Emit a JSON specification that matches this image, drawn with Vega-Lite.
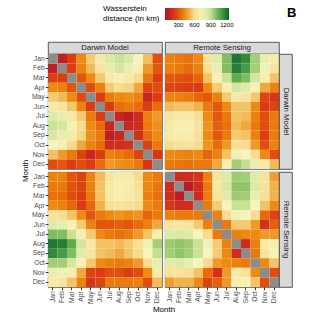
{
"$schema":"https://vega.github.io/schema/vega-lite/v6.json",
"padding":{"left":21,"top":7,"right":0,"bottom":0},
"title":{"text":"B","anchor":"end","fontSize":13,"fontWeight":"bold","font":"Liberation Sans","color":"#000","offset":-12,"dx":4},
"datasets":{"cells":[
{"r":"D","c":"D","y":"Jan","x":"Jan","v":null},{"r":"D","c":"D","y":"Jan","x":"Feb","v":120},{"r":"D","c":"D","y":"Jan","x":"Mar","v":250},{"r":"D","c":"D","y":"Jan","x":"Apr","v":420},{"r":"D","c":"D","y":"Jan","x":"May","v":560},{"r":"D","c":"D","y":"Jan","x":"Jun","v":680},{"r":"D","c":"D","y":"Jan","x":"Jul","v":830},{"r":"D","c":"D","y":"Jan","x":"Aug","v":880},{"r":"D","c":"D","y":"Jan","x":"Sep","v":840},{"r":"D","c":"D","y":"Jan","x":"Oct","v":760},{"r":"D","c":"D","y":"Jan","x":"Nov","v":530},{"r":"D","c":"D","y":"Jan","x":"Dec","v":280},
{"r":"D","c":"D","y":"Feb","x":"Jan","v":120},{"r":"D","c":"D","y":"Feb","x":"Feb","v":null},{"r":"D","c":"D","y":"Feb","x":"Mar","v":250},{"r":"D","c":"D","y":"Feb","x":"Apr","v":400},{"r":"D","c":"D","y":"Feb","x":"May","v":520},{"r":"D","c":"D","y":"Feb","x":"Jun","v":650},{"r":"D","c":"D","y":"Feb","x":"Jul","v":800},{"r":"D","c":"D","y":"Feb","x":"Aug","v":850},{"r":"D","c":"D","y":"Feb","x":"Sep","v":800},{"r":"D","c":"D","y":"Feb","x":"Oct","v":700},{"r":"D","c":"D","y":"Feb","x":"Nov","v":450},{"r":"D","c":"D","y":"Feb","x":"Dec","v":300},
{"r":"D","c":"D","y":"Mar","x":"Jan","v":250},{"r":"D","c":"D","y":"Mar","x":"Feb","v":250},{"r":"D","c":"D","y":"Mar","x":"Mar","v":null},{"r":"D","c":"D","y":"Mar","x":"Apr","v":300},{"r":"D","c":"D","y":"Mar","x":"May","v":420},{"r":"D","c":"D","y":"Mar","x":"Jun","v":550},{"r":"D","c":"D","y":"Mar","x":"Jul","v":680},{"r":"D","c":"D","y":"Mar","x":"Aug","v":700},{"r":"D","c":"D","y":"Mar","x":"Sep","v":680},{"r":"D","c":"D","y":"Mar","x":"Oct","v":600},{"r":"D","c":"D","y":"Mar","x":"Nov","v":380},{"r":"D","c":"D","y":"Mar","x":"Dec","v":250},
{"r":"D","c":"D","y":"Apr","x":"Jan","v":420},{"r":"D","c":"D","y":"Apr","x":"Feb","v":400},{"r":"D","c":"D","y":"Apr","x":"Mar","v":300},{"r":"D","c":"D","y":"Apr","x":"Apr","v":null},{"r":"D","c":"D","y":"Apr","x":"May","v":280},{"r":"D","c":"D","y":"Apr","x":"Jun","v":400},{"r":"D","c":"D","y":"Apr","x":"Jul","v":560},{"r":"D","c":"D","y":"Apr","x":"Aug","v":600},{"r":"D","c":"D","y":"Apr","x":"Sep","v":580},{"r":"D","c":"D","y":"Apr","x":"Oct","v":480},{"r":"D","c":"D","y":"Apr","x":"Nov","v":260},{"r":"D","c":"D","y":"Apr","x":"Dec","v":280},
{"r":"D","c":"D","y":"May","x":"Jan","v":560},{"r":"D","c":"D","y":"May","x":"Feb","v":520},{"r":"D","c":"D","y":"May","x":"Mar","v":420},{"r":"D","c":"D","y":"May","x":"Apr","v":280},{"r":"D","c":"D","y":"May","x":"May","v":null},{"r":"D","c":"D","y":"May","x":"Jun","v":250},{"r":"D","c":"D","y":"May","x":"Jul","v":380},{"r":"D","c":"D","y":"May","x":"Aug","v":420},{"r":"D","c":"D","y":"May","x":"Sep","v":430},{"r":"D","c":"D","y":"May","x":"Oct","v":400},{"r":"D","c":"D","y":"May","x":"Nov","v":150},{"r":"D","c":"D","y":"May","x":"Dec","v":250},
{"r":"D","c":"D","y":"Jun","x":"Jan","v":680},{"r":"D","c":"D","y":"Jun","x":"Feb","v":650},{"r":"D","c":"D","y":"Jun","x":"Mar","v":550},{"r":"D","c":"D","y":"Jun","x":"Apr","v":400},{"r":"D","c":"D","y":"Jun","x":"May","v":250},{"r":"D","c":"D","y":"Jun","x":"Jun","v":null},{"r":"D","c":"D","y":"Jun","x":"Jul","v":250},{"r":"D","c":"D","y":"Jun","x":"Aug","v":350},{"r":"D","c":"D","y":"Jun","x":"Sep","v":380},{"r":"D","c":"D","y":"Jun","x":"Oct","v":350},{"r":"D","c":"D","y":"Jun","x":"Nov","v":250},{"r":"D","c":"D","y":"Jun","x":"Dec","v":350},
{"r":"D","c":"D","y":"Jul","x":"Jan","v":830},{"r":"D","c":"D","y":"Jul","x":"Feb","v":800},{"r":"D","c":"D","y":"Jul","x":"Mar","v":680},{"r":"D","c":"D","y":"Jul","x":"Apr","v":560},{"r":"D","c":"D","y":"Jul","x":"May","v":380},{"r":"D","c":"D","y":"Jul","x":"Jun","v":250},{"r":"D","c":"D","y":"Jul","x":"Jul","v":null},{"r":"D","c":"D","y":"Jul","x":"Aug","v":150},{"r":"D","c":"D","y":"Jul","x":"Sep","v":110},{"r":"D","c":"D","y":"Jul","x":"Oct","v":170},{"r":"D","c":"D","y":"Jul","x":"Nov","v":400},{"r":"D","c":"D","y":"Jul","x":"Dec","v":450},
{"r":"D","c":"D","y":"Aug","x":"Jan","v":880},{"r":"D","c":"D","y":"Aug","x":"Feb","v":850},{"r":"D","c":"D","y":"Aug","x":"Mar","v":700},{"r":"D","c":"D","y":"Aug","x":"Apr","v":600},{"r":"D","c":"D","y":"Aug","x":"May","v":420},{"r":"D","c":"D","y":"Aug","x":"Jun","v":350},{"r":"D","c":"D","y":"Aug","x":"Jul","v":150},{"r":"D","c":"D","y":"Aug","x":"Aug","v":null},{"r":"D","c":"D","y":"Aug","x":"Sep","v":150},{"r":"D","c":"D","y":"Aug","x":"Oct","v":180},{"r":"D","c":"D","y":"Aug","x":"Nov","v":380},{"r":"D","c":"D","y":"Aug","x":"Dec","v":430},
{"r":"D","c":"D","y":"Sep","x":"Jan","v":840},{"r":"D","c":"D","y":"Sep","x":"Feb","v":800},{"r":"D","c":"D","y":"Sep","x":"Mar","v":680},{"r":"D","c":"D","y":"Sep","x":"Apr","v":580},{"r":"D","c":"D","y":"Sep","x":"May","v":430},{"r":"D","c":"D","y":"Sep","x":"Jun","v":380},{"r":"D","c":"D","y":"Sep","x":"Jul","v":110},{"r":"D","c":"D","y":"Sep","x":"Aug","v":150},{"r":"D","c":"D","y":"Sep","x":"Sep","v":null},{"r":"D","c":"D","y":"Sep","x":"Oct","v":200},{"r":"D","c":"D","y":"Sep","x":"Nov","v":350},{"r":"D","c":"D","y":"Sep","x":"Dec","v":420},
{"r":"D","c":"D","y":"Oct","x":"Jan","v":760},{"r":"D","c":"D","y":"Oct","x":"Feb","v":700},{"r":"D","c":"D","y":"Oct","x":"Mar","v":600},{"r":"D","c":"D","y":"Oct","x":"Apr","v":480},{"r":"D","c":"D","y":"Oct","x":"May","v":400},{"r":"D","c":"D","y":"Oct","x":"Jun","v":350},{"r":"D","c":"D","y":"Oct","x":"Jul","v":170},{"r":"D","c":"D","y":"Oct","x":"Aug","v":180},{"r":"D","c":"D","y":"Oct","x":"Sep","v":200},{"r":"D","c":"D","y":"Oct","x":"Oct","v":null},{"r":"D","c":"D","y":"Oct","x":"Nov","v":260},{"r":"D","c":"D","y":"Oct","x":"Dec","v":380},
{"r":"D","c":"D","y":"Nov","x":"Jan","v":530},{"r":"D","c":"D","y":"Nov","x":"Feb","v":450},{"r":"D","c":"D","y":"Nov","x":"Mar","v":380},{"r":"D","c":"D","y":"Nov","x":"Apr","v":260},{"r":"D","c":"D","y":"Nov","x":"May","v":150},{"r":"D","c":"D","y":"Nov","x":"Jun","v":250},{"r":"D","c":"D","y":"Nov","x":"Jul","v":400},{"r":"D","c":"D","y":"Nov","x":"Aug","v":380},{"r":"D","c":"D","y":"Nov","x":"Sep","v":350},{"r":"D","c":"D","y":"Nov","x":"Oct","v":260},{"r":"D","c":"D","y":"Nov","x":"Nov","v":null},{"r":"D","c":"D","y":"Nov","x":"Dec","v":220},
{"r":"D","c":"D","y":"Dec","x":"Jan","v":280},{"r":"D","c":"D","y":"Dec","x":"Feb","v":300},{"r":"D","c":"D","y":"Dec","x":"Mar","v":250},{"r":"D","c":"D","y":"Dec","x":"Apr","v":280},{"r":"D","c":"D","y":"Dec","x":"May","v":250},{"r":"D","c":"D","y":"Dec","x":"Jun","v":350},{"r":"D","c":"D","y":"Dec","x":"Jul","v":450},{"r":"D","c":"D","y":"Dec","x":"Aug","v":430},{"r":"D","c":"D","y":"Dec","x":"Sep","v":420},{"r":"D","c":"D","y":"Dec","x":"Oct","v":380},{"r":"D","c":"D","y":"Dec","x":"Nov","v":220},{"r":"D","c":"D","y":"Dec","x":"Dec","v":null},
{"r":"D","c":"R","y":"Jan","x":"Jan","v":400},{"r":"D","c":"R","y":"Jan","x":"Feb","v":380},{"r":"D","c":"R","y":"Jan","x":"Mar","v":360},{"r":"D","c":"R","y":"Jan","x":"Apr","v":420},{"r":"D","c":"R","y":"Jan","x":"May","v":640},{"r":"D","c":"R","y":"Jan","x":"Jun","v":820},{"r":"D","c":"R","y":"Jan","x":"Jul","v":1000},{"r":"D","c":"R","y":"Jan","x":"Aug","v":1200},{"r":"D","c":"R","y":"Jan","x":"Sep","v":1150},{"r":"D","c":"R","y":"Jan","x":"Oct","v":950},{"r":"D","c":"R","y":"Jan","x":"Nov","v":800},{"r":"D","c":"R","y":"Jan","x":"Dec","v":680},
{"r":"D","c":"R","y":"Feb","x":"Jan","v":400},{"r":"D","c":"R","y":"Feb","x":"Feb","v":380},{"r":"D","c":"R","y":"Feb","x":"Mar","v":350},{"r":"D","c":"R","y":"Feb","x":"Apr","v":400},{"r":"D","c":"R","y":"Feb","x":"May","v":620},{"r":"D","c":"R","y":"Feb","x":"Jun","v":800},{"r":"D","c":"R","y":"Feb","x":"Jul","v":1000},{"r":"D","c":"R","y":"Feb","x":"Aug","v":1180},{"r":"D","c":"R","y":"Feb","x":"Sep","v":1100},{"r":"D","c":"R","y":"Feb","x":"Oct","v":950},{"r":"D","c":"R","y":"Feb","x":"Nov","v":780},{"r":"D","c":"R","y":"Feb","x":"Dec","v":650},
{"r":"D","c":"R","y":"Mar","x":"Jan","v":300},{"r":"D","c":"R","y":"Mar","x":"Feb","v":290},{"r":"D","c":"R","y":"Mar","x":"Mar","v":280},{"r":"D","c":"R","y":"Mar","x":"Apr","v":330},{"r":"D","c":"R","y":"Mar","x":"May","v":540},{"r":"D","c":"R","y":"Mar","x":"Jun","v":720},{"r":"D","c":"R","y":"Mar","x":"Jul","v":880},{"r":"D","c":"R","y":"Mar","x":"Aug","v":1050},{"r":"D","c":"R","y":"Mar","x":"Sep","v":1000},{"r":"D","c":"R","y":"Mar","x":"Oct","v":850},{"r":"D","c":"R","y":"Mar","x":"Nov","v":700},{"r":"D","c":"R","y":"Mar","x":"Dec","v":540},
{"r":"D","c":"R","y":"Apr","x":"Jan","v":260},{"r":"D","c":"R","y":"Apr","x":"Feb","v":260},{"r":"D","c":"R","y":"Apr","x":"Mar","v":250},{"r":"D","c":"R","y":"Apr","x":"Apr","v":240},{"r":"D","c":"R","y":"Apr","x":"May","v":420},{"r":"D","c":"R","y":"Apr","x":"Jun","v":560},{"r":"D","c":"R","y":"Apr","x":"Jul","v":700},{"r":"D","c":"R","y":"Apr","x":"Aug","v":850},{"r":"D","c":"R","y":"Apr","x":"Sep","v":820},{"r":"D","c":"R","y":"Apr","x":"Oct","v":720},{"r":"D","c":"R","y":"Apr","x":"Nov","v":480},{"r":"D","c":"R","y":"Apr","x":"Dec","v":400},
{"r":"D","c":"R","y":"May","x":"Jan","v":400},{"r":"D","c":"R","y":"May","x":"Feb","v":400},{"r":"D","c":"R","y":"May","x":"Mar","v":380},{"r":"D","c":"R","y":"May","x":"Apr","v":330},{"r":"D","c":"R","y":"May","x":"May","v":300},{"r":"D","c":"R","y":"May","x":"Jun","v":400},{"r":"D","c":"R","y":"May","x":"Jul","v":560},{"r":"D","c":"R","y":"May","x":"Aug","v":680},{"r":"D","c":"R","y":"May","x":"Sep","v":650},{"r":"D","c":"R","y":"May","x":"Oct","v":550},{"r":"D","c":"R","y":"May","x":"Nov","v":260},{"r":"D","c":"R","y":"May","x":"Dec","v":220},
{"r":"D","c":"R","y":"Jun","x":"Jan","v":520},{"r":"D","c":"R","y":"Jun","x":"Feb","v":540},{"r":"D","c":"R","y":"Jun","x":"Mar","v":540},{"r":"D","c":"R","y":"Jun","x":"Apr","v":500},{"r":"D","c":"R","y":"Jun","x":"May","v":380},{"r":"D","c":"R","y":"Jun","x":"Jun","v":300},{"r":"D","c":"R","y":"Jun","x":"Jul","v":420},{"r":"D","c":"R","y":"Jun","x":"Aug","v":540},{"r":"D","c":"R","y":"Jun","x":"Sep","v":540},{"r":"D","c":"R","y":"Jun","x":"Oct","v":420},{"r":"D","c":"R","y":"Jun","x":"Nov","v":240},{"r":"D","c":"R","y":"Jun","x":"Dec","v":260},
{"r":"D","c":"R","y":"Jul","x":"Jan","v":650},{"r":"D","c":"R","y":"Jul","x":"Feb","v":670},{"r":"D","c":"R","y":"Jul","x":"Mar","v":680},{"r":"D","c":"R","y":"Jul","x":"Apr","v":620},{"r":"D","c":"R","y":"Jul","x":"May","v":420},{"r":"D","c":"R","y":"Jul","x":"Jun","v":300},{"r":"D","c":"R","y":"Jul","x":"Jul","v":380},{"r":"D","c":"R","y":"Jul","x":"Aug","v":540},{"r":"D","c":"R","y":"Jul","x":"Sep","v":520},{"r":"D","c":"R","y":"Jul","x":"Oct","v":400},{"r":"D","c":"R","y":"Jul","x":"Nov","v":280},{"r":"D","c":"R","y":"Jul","x":"Dec","v":380},
{"r":"D","c":"R","y":"Aug","x":"Jan","v":680},{"r":"D","c":"R","y":"Aug","x":"Feb","v":700},{"r":"D","c":"R","y":"Aug","x":"Mar","v":700},{"r":"D","c":"R","y":"Aug","x":"Apr","v":640},{"r":"D","c":"R","y":"Aug","x":"May","v":440},{"r":"D","c":"R","y":"Aug","x":"Jun","v":320},{"r":"D","c":"R","y":"Aug","x":"Jul","v":360},{"r":"D","c":"R","y":"Aug","x":"Aug","v":520},{"r":"D","c":"R","y":"Aug","x":"Sep","v":480},{"r":"D","c":"R","y":"Aug","x":"Oct","v":380},{"r":"D","c":"R","y":"Aug","x":"Nov","v":280},{"r":"D","c":"R","y":"Aug","x":"Dec","v":380},
{"r":"D","c":"R","y":"Sep","x":"Jan","v":670},{"r":"D","c":"R","y":"Sep","x":"Feb","v":690},{"r":"D","c":"R","y":"Sep","x":"Mar","v":690},{"r":"D","c":"R","y":"Sep","x":"Apr","v":620},{"r":"D","c":"R","y":"Sep","x":"May","v":420},{"r":"D","c":"R","y":"Sep","x":"Jun","v":300},{"r":"D","c":"R","y":"Sep","x":"Jul","v":380},{"r":"D","c":"R","y":"Sep","x":"Aug","v":560},{"r":"D","c":"R","y":"Sep","x":"Sep","v":540},{"r":"D","c":"R","y":"Sep","x":"Oct","v":400},{"r":"D","c":"R","y":"Sep","x":"Nov","v":250},{"r":"D","c":"R","y":"Sep","x":"Dec","v":380},
{"r":"D","c":"R","y":"Oct","x":"Jan","v":600},{"r":"D","c":"R","y":"Oct","x":"Feb","v":630},{"r":"D","c":"R","y":"Oct","x":"Mar","v":640},{"r":"D","c":"R","y":"Oct","x":"Apr","v":600},{"r":"D","c":"R","y":"Oct","x":"May","v":440},{"r":"D","c":"R","y":"Oct","x":"Jun","v":350},{"r":"D","c":"R","y":"Oct","x":"Jul","v":450},{"r":"D","c":"R","y":"Oct","x":"Aug","v":620},{"r":"D","c":"R","y":"Oct","x":"Sep","v":600},{"r":"D","c":"R","y":"Oct","x":"Oct","v":450},{"r":"D","c":"R","y":"Oct","x":"Nov","v":280},{"r":"D","c":"R","y":"Oct","x":"Dec","v":400},
{"r":"D","c":"R","y":"Nov","x":"Jan","v":420},{"r":"D","c":"R","y":"Nov","x":"Feb","v":410},{"r":"D","c":"R","y":"Nov","x":"Mar","v":400},{"r":"D","c":"R","y":"Nov","x":"Apr","v":420},{"r":"D","c":"R","y":"Nov","x":"May","v":330},{"r":"D","c":"R","y":"Nov","x":"Jun","v":400},{"r":"D","c":"R","y":"Nov","x":"Jul","v":540},{"r":"D","c":"R","y":"Nov","x":"Aug","v":780},{"r":"D","c":"R","y":"Nov","x":"Sep","v":740},{"r":"D","c":"R","y":"Nov","x":"Oct","v":600},{"r":"D","c":"R","y":"Nov","x":"Nov","v":420},{"r":"D","c":"R","y":"Nov","x":"Dec","v":280},
{"r":"D","c":"R","y":"Dec","x":"Jan","v":380},{"r":"D","c":"R","y":"Dec","x":"Feb","v":370},{"r":"D","c":"R","y":"Dec","x":"Mar","v":360},{"r":"D","c":"R","y":"Dec","x":"Apr","v":380},{"r":"D","c":"R","y":"Dec","x":"May","v":380},{"r":"D","c":"R","y":"Dec","x":"Jun","v":480},{"r":"D","c":"R","y":"Dec","x":"Jul","v":700},{"r":"D","c":"R","y":"Dec","x":"Aug","v":950},{"r":"D","c":"R","y":"Dec","x":"Sep","v":900},{"r":"D","c":"R","y":"Dec","x":"Oct","v":800},{"r":"D","c":"R","y":"Dec","x":"Nov","v":680},{"r":"D","c":"R","y":"Dec","x":"Dec","v":520},
{"r":"R","c":"D","y":"Jan","x":"Jan","v":400},{"r":"R","c":"D","y":"Jan","x":"Feb","v":400},{"r":"R","c":"D","y":"Jan","x":"Mar","v":300},{"r":"R","c":"D","y":"Jan","x":"Apr","v":260},{"r":"R","c":"D","y":"Jan","x":"May","v":400},{"r":"R","c":"D","y":"Jan","x":"Jun","v":520},{"r":"R","c":"D","y":"Jan","x":"Jul","v":650},{"r":"R","c":"D","y":"Jan","x":"Aug","v":680},{"r":"R","c":"D","y":"Jan","x":"Sep","v":670},{"r":"R","c":"D","y":"Jan","x":"Oct","v":600},{"r":"R","c":"D","y":"Jan","x":"Nov","v":420},{"r":"R","c":"D","y":"Jan","x":"Dec","v":380},
{"r":"R","c":"D","y":"Feb","x":"Jan","v":380},{"r":"R","c":"D","y":"Feb","x":"Feb","v":380},{"r":"R","c":"D","y":"Feb","x":"Mar","v":290},{"r":"R","c":"D","y":"Feb","x":"Apr","v":260},{"r":"R","c":"D","y":"Feb","x":"May","v":400},{"r":"R","c":"D","y":"Feb","x":"Jun","v":540},{"r":"R","c":"D","y":"Feb","x":"Jul","v":670},{"r":"R","c":"D","y":"Feb","x":"Aug","v":700},{"r":"R","c":"D","y":"Feb","x":"Sep","v":690},{"r":"R","c":"D","y":"Feb","x":"Oct","v":630},{"r":"R","c":"D","y":"Feb","x":"Nov","v":410},{"r":"R","c":"D","y":"Feb","x":"Dec","v":370},
{"r":"R","c":"D","y":"Mar","x":"Jan","v":360},{"r":"R","c":"D","y":"Mar","x":"Feb","v":350},{"r":"R","c":"D","y":"Mar","x":"Mar","v":280},{"r":"R","c":"D","y":"Mar","x":"Apr","v":250},{"r":"R","c":"D","y":"Mar","x":"May","v":380},{"r":"R","c":"D","y":"Mar","x":"Jun","v":540},{"r":"R","c":"D","y":"Mar","x":"Jul","v":680},{"r":"R","c":"D","y":"Mar","x":"Aug","v":700},{"r":"R","c":"D","y":"Mar","x":"Sep","v":690},{"r":"R","c":"D","y":"Mar","x":"Oct","v":640},{"r":"R","c":"D","y":"Mar","x":"Nov","v":400},{"r":"R","c":"D","y":"Mar","x":"Dec","v":360},
{"r":"R","c":"D","y":"Apr","x":"Jan","v":420},{"r":"R","c":"D","y":"Apr","x":"Feb","v":400},{"r":"R","c":"D","y":"Apr","x":"Mar","v":330},{"r":"R","c":"D","y":"Apr","x":"Apr","v":240},{"r":"R","c":"D","y":"Apr","x":"May","v":330},{"r":"R","c":"D","y":"Apr","x":"Jun","v":500},{"r":"R","c":"D","y":"Apr","x":"Jul","v":620},{"r":"R","c":"D","y":"Apr","x":"Aug","v":640},{"r":"R","c":"D","y":"Apr","x":"Sep","v":620},{"r":"R","c":"D","y":"Apr","x":"Oct","v":600},{"r":"R","c":"D","y":"Apr","x":"Nov","v":420},{"r":"R","c":"D","y":"Apr","x":"Dec","v":380},
{"r":"R","c":"D","y":"May","x":"Jan","v":640},{"r":"R","c":"D","y":"May","x":"Feb","v":620},{"r":"R","c":"D","y":"May","x":"Mar","v":540},{"r":"R","c":"D","y":"May","x":"Apr","v":420},{"r":"R","c":"D","y":"May","x":"May","v":300},{"r":"R","c":"D","y":"May","x":"Jun","v":380},{"r":"R","c":"D","y":"May","x":"Jul","v":420},{"r":"R","c":"D","y":"May","x":"Aug","v":440},{"r":"R","c":"D","y":"May","x":"Sep","v":420},{"r":"R","c":"D","y":"May","x":"Oct","v":440},{"r":"R","c":"D","y":"May","x":"Nov","v":330},{"r":"R","c":"D","y":"May","x":"Dec","v":380},
{"r":"R","c":"D","y":"Jun","x":"Jan","v":820},{"r":"R","c":"D","y":"Jun","x":"Feb","v":800},{"r":"R","c":"D","y":"Jun","x":"Mar","v":720},{"r":"R","c":"D","y":"Jun","x":"Apr","v":560},{"r":"R","c":"D","y":"Jun","x":"May","v":400},{"r":"R","c":"D","y":"Jun","x":"Jun","v":300},{"r":"R","c":"D","y":"Jun","x":"Jul","v":300},{"r":"R","c":"D","y":"Jun","x":"Aug","v":320},{"r":"R","c":"D","y":"Jun","x":"Sep","v":300},{"r":"R","c":"D","y":"Jun","x":"Oct","v":350},{"r":"R","c":"D","y":"Jun","x":"Nov","v":400},{"r":"R","c":"D","y":"Jun","x":"Dec","v":480},
{"r":"R","c":"D","y":"Jul","x":"Jan","v":1000},{"r":"R","c":"D","y":"Jul","x":"Feb","v":1000},{"r":"R","c":"D","y":"Jul","x":"Mar","v":880},{"r":"R","c":"D","y":"Jul","x":"Apr","v":700},{"r":"R","c":"D","y":"Jul","x":"May","v":560},{"r":"R","c":"D","y":"Jul","x":"Jun","v":420},{"r":"R","c":"D","y":"Jul","x":"Jul","v":380},{"r":"R","c":"D","y":"Jul","x":"Aug","v":360},{"r":"R","c":"D","y":"Jul","x":"Sep","v":380},{"r":"R","c":"D","y":"Jul","x":"Oct","v":450},{"r":"R","c":"D","y":"Jul","x":"Nov","v":540},{"r":"R","c":"D","y":"Jul","x":"Dec","v":700},
{"r":"R","c":"D","y":"Aug","x":"Jan","v":1200},{"r":"R","c":"D","y":"Aug","x":"Feb","v":1180},{"r":"R","c":"D","y":"Aug","x":"Mar","v":1050},{"r":"R","c":"D","y":"Aug","x":"Apr","v":850},{"r":"R","c":"D","y":"Aug","x":"May","v":680},{"r":"R","c":"D","y":"Aug","x":"Jun","v":540},{"r":"R","c":"D","y":"Aug","x":"Jul","v":540},{"r":"R","c":"D","y":"Aug","x":"Aug","v":520},{"r":"R","c":"D","y":"Aug","x":"Sep","v":560},{"r":"R","c":"D","y":"Aug","x":"Oct","v":620},{"r":"R","c":"D","y":"Aug","x":"Nov","v":780},{"r":"R","c":"D","y":"Aug","x":"Dec","v":950},
{"r":"R","c":"D","y":"Sep","x":"Jan","v":1150},{"r":"R","c":"D","y":"Sep","x":"Feb","v":1100},{"r":"R","c":"D","y":"Sep","x":"Mar","v":1000},{"r":"R","c":"D","y":"Sep","x":"Apr","v":820},{"r":"R","c":"D","y":"Sep","x":"May","v":650},{"r":"R","c":"D","y":"Sep","x":"Jun","v":540},{"r":"R","c":"D","y":"Sep","x":"Jul","v":520},{"r":"R","c":"D","y":"Sep","x":"Aug","v":480},{"r":"R","c":"D","y":"Sep","x":"Sep","v":540},{"r":"R","c":"D","y":"Sep","x":"Oct","v":600},{"r":"R","c":"D","y":"Sep","x":"Nov","v":740},{"r":"R","c":"D","y":"Sep","x":"Dec","v":900},
{"r":"R","c":"D","y":"Oct","x":"Jan","v":950},{"r":"R","c":"D","y":"Oct","x":"Feb","v":950},{"r":"R","c":"D","y":"Oct","x":"Mar","v":850},{"r":"R","c":"D","y":"Oct","x":"Apr","v":720},{"r":"R","c":"D","y":"Oct","x":"May","v":550},{"r":"R","c":"D","y":"Oct","x":"Jun","v":420},{"r":"R","c":"D","y":"Oct","x":"Jul","v":400},{"r":"R","c":"D","y":"Oct","x":"Aug","v":380},{"r":"R","c":"D","y":"Oct","x":"Sep","v":400},{"r":"R","c":"D","y":"Oct","x":"Oct","v":450},{"r":"R","c":"D","y":"Oct","x":"Nov","v":600},{"r":"R","c":"D","y":"Oct","x":"Dec","v":800},
{"r":"R","c":"D","y":"Nov","x":"Jan","v":800},{"r":"R","c":"D","y":"Nov","x":"Feb","v":780},{"r":"R","c":"D","y":"Nov","x":"Mar","v":700},{"r":"R","c":"D","y":"Nov","x":"Apr","v":480},{"r":"R","c":"D","y":"Nov","x":"May","v":260},{"r":"R","c":"D","y":"Nov","x":"Jun","v":240},{"r":"R","c":"D","y":"Nov","x":"Jul","v":280},{"r":"R","c":"D","y":"Nov","x":"Aug","v":280},{"r":"R","c":"D","y":"Nov","x":"Sep","v":250},{"r":"R","c":"D","y":"Nov","x":"Oct","v":280},{"r":"R","c":"D","y":"Nov","x":"Nov","v":420},{"r":"R","c":"D","y":"Nov","x":"Dec","v":680},
{"r":"R","c":"D","y":"Dec","x":"Jan","v":680},{"r":"R","c":"D","y":"Dec","x":"Feb","v":650},{"r":"R","c":"D","y":"Dec","x":"Mar","v":540},{"r":"R","c":"D","y":"Dec","x":"Apr","v":400},{"r":"R","c":"D","y":"Dec","x":"May","v":220},{"r":"R","c":"D","y":"Dec","x":"Jun","v":260},{"r":"R","c":"D","y":"Dec","x":"Jul","v":380},{"r":"R","c":"D","y":"Dec","x":"Aug","v":380},{"r":"R","c":"D","y":"Dec","x":"Sep","v":380},{"r":"R","c":"D","y":"Dec","x":"Oct","v":400},{"r":"R","c":"D","y":"Dec","x":"Nov","v":280},{"r":"R","c":"D","y":"Dec","x":"Dec","v":520},
{"r":"R","c":"R","y":"Jan","x":"Jan","v":null},{"r":"R","c":"R","y":"Jan","x":"Feb","v":170},{"r":"R","c":"R","y":"Jan","x":"Mar","v":180},{"r":"R","c":"R","y":"Jan","x":"Apr","v":220},{"r":"R","c":"R","y":"Jan","x":"May","v":400},{"r":"R","c":"R","y":"Jan","x":"Jun","v":640},{"r":"R","c":"R","y":"Jan","x":"Jul","v":820},{"r":"R","c":"R","y":"Jan","x":"Aug","v":960},{"r":"R","c":"R","y":"Jan","x":"Sep","v":950},{"r":"R","c":"R","y":"Jan","x":"Oct","v":820},{"r":"R","c":"R","y":"Jan","x":"Nov","v":640},{"r":"R","c":"R","y":"Jan","x":"Dec","v":460},
{"r":"R","c":"R","y":"Feb","x":"Jan","v":170},{"r":"R","c":"R","y":"Feb","x":"Feb","v":null},{"r":"R","c":"R","y":"Feb","x":"Mar","v":100},{"r":"R","c":"R","y":"Feb","x":"Apr","v":180},{"r":"R","c":"R","y":"Feb","x":"May","v":380},{"r":"R","c":"R","y":"Feb","x":"Jun","v":660},{"r":"R","c":"R","y":"Feb","x":"Jul","v":840},{"r":"R","c":"R","y":"Feb","x":"Aug","v":980},{"r":"R","c":"R","y":"Feb","x":"Sep","v":980},{"r":"R","c":"R","y":"Feb","x":"Oct","v":830},{"r":"R","c":"R","y":"Feb","x":"Nov","v":640},{"r":"R","c":"R","y":"Feb","x":"Dec","v":500},
{"r":"R","c":"R","y":"Mar","x":"Jan","v":180},{"r":"R","c":"R","y":"Mar","x":"Feb","v":100},{"r":"R","c":"R","y":"Mar","x":"Mar","v":null},{"r":"R","c":"R","y":"Mar","x":"Apr","v":180},{"r":"R","c":"R","y":"Mar","x":"May","v":380},{"r":"R","c":"R","y":"Mar","x":"Jun","v":640},{"r":"R","c":"R","y":"Mar","x":"Jul","v":820},{"r":"R","c":"R","y":"Mar","x":"Aug","v":960},{"r":"R","c":"R","y":"Mar","x":"Sep","v":950},{"r":"R","c":"R","y":"Mar","x":"Oct","v":800},{"r":"R","c":"R","y":"Mar","x":"Nov","v":620},{"r":"R","c":"R","y":"Mar","x":"Dec","v":500},
{"r":"R","c":"R","y":"Apr","x":"Jan","v":220},{"r":"R","c":"R","y":"Apr","x":"Feb","v":180},{"r":"R","c":"R","y":"Apr","x":"Mar","v":180},{"r":"R","c":"R","y":"Apr","x":"Apr","v":null},{"r":"R","c":"R","y":"Apr","x":"May","v":380},{"r":"R","c":"R","y":"Apr","x":"Jun","v":560},{"r":"R","c":"R","y":"Apr","x":"Jul","v":740},{"r":"R","c":"R","y":"Apr","x":"Aug","v":880},{"r":"R","c":"R","y":"Apr","x":"Sep","v":880},{"r":"R","c":"R","y":"Apr","x":"Oct","v":740},{"r":"R","c":"R","y":"Apr","x":"Nov","v":540},{"r":"R","c":"R","y":"Apr","x":"Dec","v":420},
{"r":"R","c":"R","y":"May","x":"Jan","v":400},{"r":"R","c":"R","y":"May","x":"Feb","v":380},{"r":"R","c":"R","y":"May","x":"Mar","v":380},{"r":"R","c":"R","y":"May","x":"Apr","v":380},{"r":"R","c":"R","y":"May","x":"May","v":null},{"r":"R","c":"R","y":"May","x":"Jun","v":400},{"r":"R","c":"R","y":"May","x":"Jul","v":600},{"r":"R","c":"R","y":"May","x":"Aug","v":780},{"r":"R","c":"R","y":"May","x":"Sep","v":760},{"r":"R","c":"R","y":"May","x":"Oct","v":600},{"r":"R","c":"R","y":"May","x":"Nov","v":340},{"r":"R","c":"R","y":"May","x":"Dec","v":260},
{"r":"R","c":"R","y":"Jun","x":"Jan","v":640},{"r":"R","c":"R","y":"Jun","x":"Feb","v":660},{"r":"R","c":"R","y":"Jun","x":"Mar","v":640},{"r":"R","c":"R","y":"Jun","x":"Apr","v":560},{"r":"R","c":"R","y":"Jun","x":"May","v":400},{"r":"R","c":"R","y":"Jun","x":"Jun","v":null},{"r":"R","c":"R","y":"Jun","x":"Jul","v":380},{"r":"R","c":"R","y":"Jun","x":"Aug","v":560},{"r":"R","c":"R","y":"Jun","x":"Sep","v":560},{"r":"R","c":"R","y":"Jun","x":"Oct","v":450},{"r":"R","c":"R","y":"Jun","x":"Nov","v":200},{"r":"R","c":"R","y":"Jun","x":"Dec","v":320},
{"r":"R","c":"R","y":"Jul","x":"Jan","v":820},{"r":"R","c":"R","y":"Jul","x":"Feb","v":840},{"r":"R","c":"R","y":"Jul","x":"Mar","v":820},{"r":"R","c":"R","y":"Jul","x":"Apr","v":740},{"r":"R","c":"R","y":"Jul","x":"May","v":600},{"r":"R","c":"R","y":"Jul","x":"Jun","v":380},{"r":"R","c":"R","y":"Jul","x":"Jul","v":null},{"r":"R","c":"R","y":"Jul","x":"Aug","v":400},{"r":"R","c":"R","y":"Jul","x":"Sep","v":420},{"r":"R","c":"R","y":"Jul","x":"Oct","v":420},{"r":"R","c":"R","y":"Jul","x":"Nov","v":450},{"r":"R","c":"R","y":"Jul","x":"Dec","v":450},
{"r":"R","c":"R","y":"Aug","x":"Jan","v":960},{"r":"R","c":"R","y":"Aug","x":"Feb","v":980},{"r":"R","c":"R","y":"Aug","x":"Mar","v":960},{"r":"R","c":"R","y":"Aug","x":"Apr","v":880},{"r":"R","c":"R","y":"Aug","x":"May","v":780},{"r":"R","c":"R","y":"Aug","x":"Jun","v":560},{"r":"R","c":"R","y":"Aug","x":"Jul","v":400},{"r":"R","c":"R","y":"Aug","x":"Aug","v":null},{"r":"R","c":"R","y":"Aug","x":"Sep","v":180},{"r":"R","c":"R","y":"Aug","x":"Oct","v":400},{"r":"R","c":"R","y":"Aug","x":"Nov","v":680},{"r":"R","c":"R","y":"Aug","x":"Dec","v":700},
{"r":"R","c":"R","y":"Sep","x":"Jan","v":950},{"r":"R","c":"R","y":"Sep","x":"Feb","v":980},{"r":"R","c":"R","y":"Sep","x":"Mar","v":950},{"r":"R","c":"R","y":"Sep","x":"Apr","v":880},{"r":"R","c":"R","y":"Sep","x":"May","v":760},{"r":"R","c":"R","y":"Sep","x":"Jun","v":560},{"r":"R","c":"R","y":"Sep","x":"Jul","v":420},{"r":"R","c":"R","y":"Sep","x":"Aug","v":180},{"r":"R","c":"R","y":"Sep","x":"Sep","v":null},{"r":"R","c":"R","y":"Sep","x":"Oct","v":380},{"r":"R","c":"R","y":"Sep","x":"Nov","v":640},{"r":"R","c":"R","y":"Sep","x":"Dec","v":720},
{"r":"R","c":"R","y":"Oct","x":"Jan","v":820},{"r":"R","c":"R","y":"Oct","x":"Feb","v":830},{"r":"R","c":"R","y":"Oct","x":"Mar","v":800},{"r":"R","c":"R","y":"Oct","x":"Apr","v":740},{"r":"R","c":"R","y":"Oct","x":"May","v":600},{"r":"R","c":"R","y":"Oct","x":"Jun","v":450},{"r":"R","c":"R","y":"Oct","x":"Jul","v":420},{"r":"R","c":"R","y":"Oct","x":"Aug","v":400},{"r":"R","c":"R","y":"Oct","x":"Sep","v":380},{"r":"R","c":"R","y":"Oct","x":"Oct","v":null},{"r":"R","c":"R","y":"Oct","x":"Nov","v":420},{"r":"R","c":"R","y":"Oct","x":"Dec","v":540},
{"r":"R","c":"R","y":"Nov","x":"Jan","v":640},{"r":"R","c":"R","y":"Nov","x":"Feb","v":640},{"r":"R","c":"R","y":"Nov","x":"Mar","v":620},{"r":"R","c":"R","y":"Nov","x":"Apr","v":540},{"r":"R","c":"R","y":"Nov","x":"May","v":340},{"r":"R","c":"R","y":"Nov","x":"Jun","v":200},{"r":"R","c":"R","y":"Nov","x":"Jul","v":450},{"r":"R","c":"R","y":"Nov","x":"Aug","v":680},{"r":"R","c":"R","y":"Nov","x":"Sep","v":640},{"r":"R","c":"R","y":"Nov","x":"Oct","v":420},{"r":"R","c":"R","y":"Nov","x":"Nov","v":null},{"r":"R","c":"R","y":"Nov","x":"Dec","v":280},
{"r":"R","c":"R","y":"Dec","x":"Jan","v":460},{"r":"R","c":"R","y":"Dec","x":"Feb","v":500},{"r":"R","c":"R","y":"Dec","x":"Mar","v":500},{"r":"R","c":"R","y":"Dec","x":"Apr","v":420},{"r":"R","c":"R","y":"Dec","x":"May","v":260},{"r":"R","c":"R","y":"Dec","x":"Jun","v":320},{"r":"R","c":"R","y":"Dec","x":"Jul","v":450},{"r":"R","c":"R","y":"Dec","x":"Aug","v":700},{"r":"R","c":"R","y":"Dec","x":"Sep","v":720},{"r":"R","c":"R","y":"Dec","x":"Oct","v":540},{"r":"R","c":"R","y":"Dec","x":"Nov","v":280},{"r":"R","c":"R","y":"Dec","x":"Dec","v":null}
]},
"columns":4,
"spacing":0,
"bounds":"flush",
"align":"each",
"resolve":{"scale":{"color":"shared"},"legend":{"color":"shared"}},
"concat":[
{"width":114,"height":12,"data":{"values":[{"label":"Darwin Model"}]},"mark":{"type":"text","fontSize":7.8,"color":"#1a1a1a"},"encoding":{"text":{"field":"label","type":"nominal"}},"view":{"fill":"#d9d9d9","stroke":"#333333","strokeWidth":0.8}},
{"width":3,"height":1,"data":{"values":[]},"mark":"point","encoding":{}},
{"width":114,"height":12,"data":{"values":[{"label":"Remote Sensing"}]},"mark":{"type":"text","fontSize":7.8,"color":"#1a1a1a"},"encoding":{"text":{"field":"label","type":"nominal"}},"view":{"fill":"#d9d9d9","stroke":"#333333","strokeWidth":0.8}},
{"width":13,"height":1,"data":{"values":[]},"mark":"point","encoding":{}},

{"width":114,"height":115,"data":{"name":"cells"},"transform":[{"filter":"datum.r==='D' && datum.c==='D'"}],
 "encoding":{"x":{"field":"x","type":"ordinal","scale":{"domain":["Jan","Feb","Mar","Apr","May","Jun","Jul","Aug","Sep","Oct","Nov","Dec"],"paddingInner":0,"paddingOuter":0},"axis":null},
  "y":{"field":"y","type":"ordinal","scale":{"domain":["Jan","Feb","Mar","Apr","May","Jun","Jul","Aug","Sep","Oct","Nov","Dec"],"paddingInner":0,"paddingOuter":0},"axis":{"title":"Month","titleY":116.5}}},
 "layer":[
  {"transform":[{"filter":"isValid(datum.v)"}],"mark":{"type":"rect"},"encoding":{"color":{"field":"v","type":"quantitative","scale":{"domain":[50,250,420,600,750,900,1050,1240],"range":["#b0102a","#dc3d0f","#ee8a12","#f8dc8e","#f8f6c2","#c2df8e","#5eac4d","#006a2c"]},"legend":{"title":["Wasserstein","distance (in km)"],"orient":"none","legendX":55,"legendY":-34,"direction":"horizontal","titleOrient":"left","titleAnchor":"middle","gradientLength":64,"gradientThickness":12,"values":[300,600,900,1200],"format":"d","labelFontSize":6,"titleFontSize":8,"titleFontWeight":"normal","titleColor":"#000","labelColor":"#000","titlePadding":5,"padding":0,"titleLineHeight":9.5}}}},
  {"transform":[{"filter":"!isValid(datum.v)"}],"mark":{"type":"rect","color":"#8c8c8c"}}
 ],
 "view":{"stroke":"#333333","strokeWidth":0.8}},
{"width":3,"height":1,"data":{"values":[]},"mark":"point","encoding":{}},
{"width":114,"height":115,"data":{"name":"cells"},"transform":[{"filter":"datum.r==='D' && datum.c==='R'"}],
 "encoding":{"x":{"field":"x","type":"ordinal","scale":{"domain":["Jan","Feb","Mar","Apr","May","Jun","Jul","Aug","Sep","Oct","Nov","Dec"],"paddingInner":0,"paddingOuter":0},"axis":null},
  "y":{"field":"y","type":"ordinal","scale":{"domain":["Jan","Feb","Mar","Apr","May","Jun","Jul","Aug","Sep","Oct","Nov","Dec"],"paddingInner":0,"paddingOuter":0},"axis":null}},
 "layer":[
  {"transform":[{"filter":"isValid(datum.v)"}],"mark":{"type":"rect"},"encoding":{"color":{"field":"v","type":"quantitative","scale":{"domain":[50,250,420,600,750,900,1050,1240],"range":["#b0102a","#dc3d0f","#ee8a12","#f8dc8e","#f8f6c2","#c2df8e","#5eac4d","#006a2c"]}}}},
  {"transform":[{"filter":"!isValid(datum.v)"}],"mark":{"type":"rect","color":"#8c8c8c"}}
 ],
 "view":{"stroke":"#333333","strokeWidth":0.8}},
{"width":13,"height":115,"data":{"values":[{"label":"Darwin Model"}]},"mark":{"type":"text","fontSize":7.8,"angle":90,"color":"#1a1a1a"},"encoding":{"text":{"field":"label","type":"nominal"}},"view":{"fill":"#d9d9d9","stroke":"#333333","strokeWidth":0.8}},

{"width":1,"height":3,"data":{"values":[]},"mark":"point","encoding":{}},
{"width":1,"height":1,"data":{"values":[]},"mark":"point","encoding":{}},
{"width":1,"height":1,"data":{"values":[]},"mark":"point","encoding":{}},
{"width":1,"height":1,"data":{"values":[]},"mark":"point","encoding":{}},

{"width":114,"height":115,"data":{"name":"cells"},"transform":[{"filter":"datum.r==='R' && datum.c==='D'"}],
 "encoding":{"x":{"field":"x","type":"ordinal","scale":{"domain":["Jan","Feb","Mar","Apr","May","Jun","Jul","Aug","Sep","Oct","Nov","Dec"],"paddingInner":0,"paddingOuter":0},"axis":{"title":"Month","titleX":115.5,"labelAngle":-90}},
  "y":{"field":"y","type":"ordinal","scale":{"domain":["Jan","Feb","Mar","Apr","May","Jun","Jul","Aug","Sep","Oct","Nov","Dec"],"paddingInner":0,"paddingOuter":0},"axis":{"title":null}}},
 "layer":[
  {"transform":[{"filter":"isValid(datum.v)"}],"mark":{"type":"rect"},"encoding":{"color":{"field":"v","type":"quantitative","scale":{"domain":[50,250,420,600,750,900,1050,1240],"range":["#b0102a","#dc3d0f","#ee8a12","#f8dc8e","#f8f6c2","#c2df8e","#5eac4d","#006a2c"]}}}},
  {"transform":[{"filter":"!isValid(datum.v)"}],"mark":{"type":"rect","color":"#8c8c8c"}}
 ],
 "view":{"stroke":"#333333","strokeWidth":0.8}},
{"width":1,"height":1,"data":{"values":[]},"mark":"point","encoding":{}},
{"width":114,"height":115,"data":{"name":"cells"},"transform":[{"filter":"datum.r==='R' && datum.c==='R'"}],
 "encoding":{"x":{"field":"x","type":"ordinal","scale":{"domain":["Jan","Feb","Mar","Apr","May","Jun","Jul","Aug","Sep","Oct","Nov","Dec"],"paddingInner":0,"paddingOuter":0},"axis":{"title":null,"labelAngle":-90}},
  "y":{"field":"y","type":"ordinal","scale":{"domain":["Jan","Feb","Mar","Apr","May","Jun","Jul","Aug","Sep","Oct","Nov","Dec"],"paddingInner":0,"paddingOuter":0},"axis":null}},
 "layer":[
  {"transform":[{"filter":"isValid(datum.v)"}],"mark":{"type":"rect"},"encoding":{"color":{"field":"v","type":"quantitative","scale":{"domain":[50,250,420,600,750,900,1050,1240],"range":["#b0102a","#dc3d0f","#ee8a12","#f8dc8e","#f8f6c2","#c2df8e","#5eac4d","#006a2c"]}}}},
  {"transform":[{"filter":"!isValid(datum.v)"}],"mark":{"type":"rect","color":"#8c8c8c"}}
 ],
 "view":{"stroke":"#333333","strokeWidth":0.8}},
{"width":13,"height":115,"data":{"values":[{"label":"Remote Sensing"}]},"mark":{"type":"text","fontSize":7.8,"angle":90,"color":"#1a1a1a"},"encoding":{"text":{"field":"label","type":"nominal"}},"view":{"fill":"#d9d9d9","stroke":"#333333","strokeWidth":0.8}}
],
"config":{
 "view":{"stroke":null},
 "font":"Liberation Sans",
 "axis":{"labelFont":"Liberation Sans","labelFontSize":6.8,"labelColor":"#4d4d4d","tickColor":"#333333","tickSize":2.75,"domain":false,"grid":false,"labelPadding":1,"titleFont":"Liberation Sans","titleFontSize":8,"titleFontWeight":"normal","titleColor":"#000","titlePadding":2},
 "legend":{"labelFont":"Liberation Sans","titleFont":"Liberation Sans"}
}
}
